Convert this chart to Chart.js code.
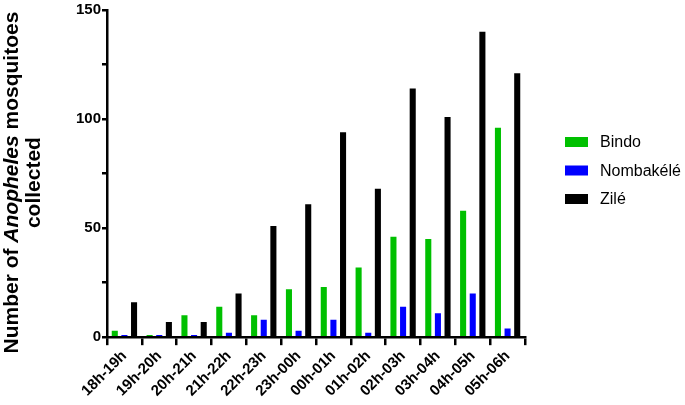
<!DOCTYPE html>
<html>
<head>
<meta charset="utf-8">
<script src="https://cdn.jsdelivr.net/npm/chart.js@4"></script>
<style>
  html, body { margin: 0; padding: 0; background: #fff; }
  #wrap { width: 685px; height: 405px; }
</style>
</head>
<body>
<div id="wrap"><canvas id="chart"></canvas></div>
<script>
const hours = ['18h-19h', '19h-20h', '20h-21h', '21h-22h', '22h-23h', '23h-00h',
               '00h-01h', '01h-02h', '02h-03h', '03h-04h', '04h-05h', '05h-06h'];
const bindo = [3, 1, 10, 14, 10, 22, 23, 32, 46, 45, 58, 96];
const nombakele = [1, 1, 1, 2, 8, 3, 8, 2, 14, 11, 20, 4];
const zile = [16, 7, 7, 20, 51, 61, 94, 68, 114, 101, 140, 121];
const yTicks = [0, 50, 100, 150];

const font = 'Liberation Sans, Arial, sans-serif';

// y title with italic genus name
const yTitle = {
    id: 'yTitle',
    afterDraw(chart) {
        const ctx = chart.ctx;
        const area = chart.chartArea;
        const cy = (area.top + area.bottom) / 2 + 9;
        ctx.save();
        ctx.fillStyle = '#000';
        ctx.textBaseline = 'middle';
        ctx.translate(12, cy);
        ctx.rotate(-Math.PI / 2);
        const parts = [
            ['bold 21px ' + font, 'Number of '],
            ['italic bold 21px ' + font, 'Anopheles'],
            ['bold 21px ' + font, ' mosquitoes']
        ];
        let total = 0;
        parts.forEach(p => { ctx.font = p[0]; total += ctx.measureText(p[1]).width; });
        let x = -total / 2;
        parts.forEach(p => {
            ctx.font = p[0];
            ctx.textAlign = 'left';
            ctx.fillText(p[1], x, 0);
            x += ctx.measureText(p[1]).width;
        });
        ctx.font = 'bold 21px ' + font;
        ctx.textAlign = 'center';
        ctx.fillText('collected', 0, 22);
        ctx.restore();
    }
};

// legend on the right, drawn by hand
const sideLegend = {
    id: 'sideLegend',
    afterDraw(chart) {
        const ctx = chart.ctx;
        ctx.save();
        ctx.font = '16px ' + font;
        ctx.textBaseline = 'middle';
        ctx.textAlign = 'left';
        chart.data.datasets.forEach((ds, i) => {
            const y = 142 + i * 28.5;
            ctx.fillStyle = ds.backgroundColor;
            ctx.fillRect(565, y - 5, 23, 10);
            ctx.fillStyle = '#000';
            ctx.fillText(ds.label, 600, y + 1);
        });
        ctx.restore();
    }
};

new Chart(document.getElementById('chart'), {
    type: 'bar',
    data: {
        labels: hours,
        datasets: [
            { label: 'Bindo', data: bindo, backgroundColor: '#00c000' },
            { label: 'Nombakélé', data: nombakele, backgroundColor: '#0000ff' },
            { label: 'Zilé', data: zile, backgroundColor: '#000000' }
        ]
    },
    options: {
        responsive: true,
        maintainAspectRatio: false,
        animation: false,
        devicePixelRatio: 1,
        layout: { padding: { top: 0, right: 160, left: 0, bottom: 3 } },
        datasets: { bar: { categoryPercentage: 0.83, barPercentage: 0.63 } },
        plugins: {
            tooltip: { enabled: false },
            legend: { display: false }
        },
        scales: {
            x: {
                grid: { drawOnChartArea: false, color: '#000', lineWidth: 2.5, tickLength: 8 },
                border: { color: '#000', width: 2.5 },
                ticks: {
                    color: '#000',
                    font: { family: font, size: 15, weight: 'bold' },
                    maxRotation: 45, minRotation: 45,
                    padding: 2
                }
            },
            y: {
                min: 0, max: 150,
                afterFit(scale) { scale.width = 107; },
                grid: { drawOnChartArea: false, color: '#000', lineWidth: 2.5, tickLength: 5 },
                border: { color: '#000', width: 2.5 },
                ticks: {
                    stepSize: 25,
                    color: '#000',
                    font: { family: font, size: 15, weight: 'bold' },
                    padding: 1,
                    callback: v => yTicks.includes(v) ? v : ''
                }
            }
        }
    },
    plugins: [yTitle, sideLegend]
});
</script>
</body>
</html>
